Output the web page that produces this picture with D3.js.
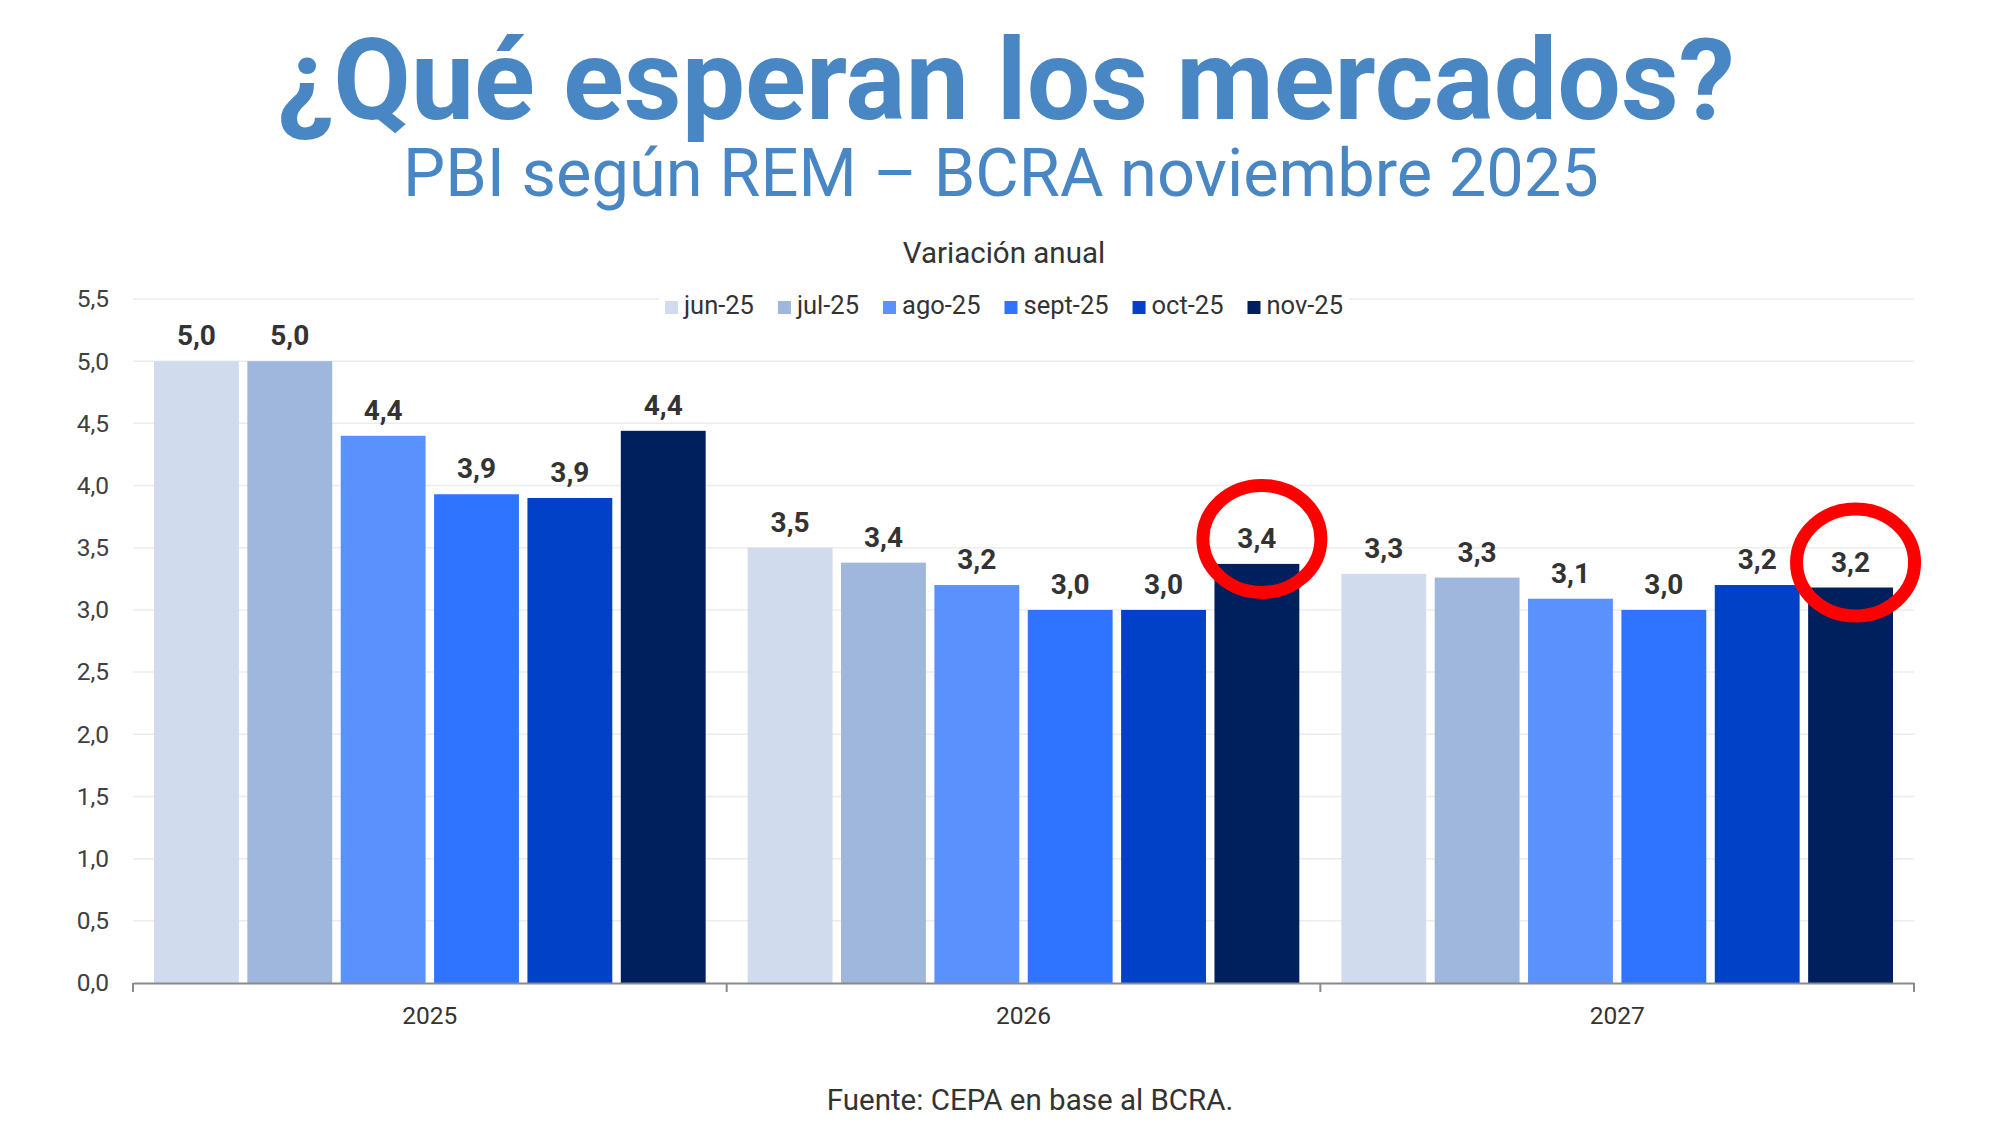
<!DOCTYPE html>
<html>
<head>
<meta charset="utf-8">
<script src="https://cdn.jsdelivr.net/npm/d3@7/dist/d3.min.js"></script>
<style>
  html, body { margin: 0; padding: 0; background: #ffffff; }
  svg { display: block; font-family: Roboto, "Noto Sans", sans-serif; }
</style>
</head>
<body>
<svg id="chart" width="2000" height="1125"></svg>
<script>
// ---------- DATA ----------
const categories = ["2025", "2026", "2027"];
const seriesNames = ["jun-25", "jul-25", "ago-25", "sept-25", "oct-25", "nov-25"];
const jun25  = [5.00, 3.50, 3.29];
const jul25  = [5.00, 3.38, 3.26];
const ago25  = [4.40, 3.20, 3.09];
const sept25 = [3.93, 3.00, 3.00];
const oct25  = [3.90, 3.00, 3.20];
const nov25  = [4.44, 3.37, 3.18];
const yTicks = [0, 0.5, 1, 1.5, 2, 2.5, 3, 3.5, 4, 4.5, 5, 5.5];
const highlights = [
  { category: "2026", series: "nov-25" },
  { category: "2027", series: "nov-25" }
];
const titleText = "¿Qué esperan los mercados?";
const subtitleText = "PBI según REM – BCRA noviembre 2025";
const chartTitleText = "Variación anual";
const sourceText = "Fuente: CEPA en base al BCRA.";

// ---------- STYLE ----------
const seriesColors = ["#d0dcee", "#9fb7dc", "#5b91fd", "#2f74fe", "#0041c8", "#001f5d"];
const titleColor = "#4886c4";
const textColor = "#333333";

const seriesValues = [jun25, jul25, ago25, sept25, oct25, nov25];
const table = categories.map((c, i) => ({
  category: c,
  values: seriesNames.map((s, j) => ({ series: s, value: seriesValues[j][i], category: c }))
}));

const svg = d3.select("#chart");
const margin = { left: 133, right: 2000 - 1914, top: 299, bottom: 1125 - 983 };
const plotW = 2000 - margin.left - margin.right;
const plotH = 1125 - margin.top - margin.bottom;

const x0 = d3.scaleBand().domain(categories).range([0, plotW]).padding(0);
const x1 = d3.scaleBand().domain(seriesNames).range([0, x0.bandwidth()])
  .paddingInner(0.091).paddingOuter(0.225);
const y = d3.scaleLinear().domain([0, 5.5]).range([plotH, 0]);
const color = d3.scaleOrdinal().domain(seriesNames).range(seriesColors);
const fmt = v => d3.format(".1f")(v).replace(".", ",");

// ---------- TITLES ----------
function fitText(sel, targetWidth) {
  const fs = parseFloat(sel.attr("font-size"));
  const len = sel.node().getComputedTextLength();
  sel.attr("font-size", fs * targetWidth / len);
}
const title = svg.append("text")
  .attr("x", 1006).attr("y", 119).attr("text-anchor", "middle")
  .attr("font-size", 101).attr("font-weight", 700).attr("fill", titleColor)
  .text(titleText);
fitText(title, 1458);

const subtitle = svg.append("text")
  .attr("x", 1001).attr("y", 196).attr("text-anchor", "middle")
  .attr("font-size", 67).attr("font-weight", 400).attr("fill", titleColor)
  .text(subtitleText);
fitText(subtitle, 1196);

svg.append("text")
  .attr("x", 1004).attr("y", 263).attr("text-anchor", "middle")
  .attr("font-size", 29.5).attr("fill", textColor)
  .text(chartTitleText);

// ---------- PLOT ----------
const g = svg.append("g").attr("transform", `translate(${margin.left},${margin.top})`);

// gridlines
g.append("g").selectAll("line").data(yTicks.filter(t => t > 0)).join("line")
  .attr("x1", 0).attr("x2", plotW)
  .attr("y1", d => y(d)).attr("y2", d => y(d))
  .attr("stroke", "#ececec").attr("stroke-width", 1.5);

// y axis labels
const yAxis = d3.axisLeft(y).tickValues(yTicks).tickFormat(fmt).tickSize(0).tickPadding(24);
const yg = g.append("g").call(yAxis);
yg.select(".domain").remove();
yg.selectAll("text").attr("font-size", 24.5).attr("fill", "#404040")
  .attr("font-family", "Roboto, sans-serif");

// bars
const groups = g.append("g").selectAll("g").data(table).join("g")
  .attr("transform", d => `translate(${x0(d.category)},0)`);
groups.selectAll("rect").data(d => d.values).join("rect")
  .attr("x", d => x1(d.series))
  .attr("y", d => y(d.value))
  .attr("width", x1.bandwidth())
  .attr("height", d => y(0) - y(d.value))
  .attr("fill", d => color(d.series));

// value labels
groups.selectAll("text.val").data(d => d.values).join("text")
  .attr("class", "val")
  .attr("x", d => x1(d.series) + x1.bandwidth() / 2)
  .attr("y", d => y(d.value) - 16)
  .attr("text-anchor", "middle")
  .attr("font-size", 28).attr("font-weight", 700).attr("fill", textColor)
  .text(d => fmt(d.value));

// x axis
const xAxis = d3.axisBottom(x0).tickSize(0).tickPadding(24);
const xg = g.append("g").attr("transform", `translate(0,${plotH})`).call(xAxis);
xg.select(".domain").attr("stroke", "#8a8a8a").attr("stroke-width", 2);
xg.selectAll("text").attr("font-size", 24.5).attr("fill", textColor)
  .attr("font-family", "Roboto, sans-serif");
const boundaries = categories.map(c => x0(c)).concat([plotW]);
xg.append("g").selectAll("line").data(boundaries).join("line")
  .attr("x1", d => d).attr("x2", d => d).attr("y1", 0).attr("y2", 9)
  .attr("stroke", "#8a8a8a").attr("stroke-width", 2);

// highlight circles
g.append("g").selectAll("ellipse").data(highlights).join("ellipse")
  .attr("cx", d => x0(d.category) + x1(d.series) + x1.bandwidth() / 2 + 5)
  .attr("cy", d => {
    const v = table.find(t => t.category === d.category).values.find(s => s.series === d.series).value;
    return y(v) - 25;
  })
  .attr("rx", 59).attr("ry", 53.5)
  .attr("fill", "none").attr("stroke", "#ff0000").attr("stroke-width", 13);

// ---------- LEGEND ----------
const legend = svg.append("g");
const legendItems = legend.selectAll("g").data(seriesNames).join("g");
legendItems.append("rect")
  .attr("width", 13).attr("height", 13).attr("y", -13)
  .attr("fill", d => color(d));
legendItems.append("text")
  .attr("x", 19).attr("y", 0)
  .attr("font-size", 25.5).attr("fill", textColor)
  .text(d => d);
let cursor = 0;
legendItems.each(function () {
  const w = 19 + d3.select(this).select("text").node().getComputedTextLength();
  d3.select(this).attr("transform", `translate(${cursor},0)`);
  cursor += w + 24;
});
const legendWidth = cursor - 24;
const lx = 1004 - legendWidth / 2;
legend.insert("rect", ":first-child")
  .attr("x", -6).attr("y", -20).attr("width", legendWidth + 12).attr("height", 27)
  .attr("fill", "#ffffff");
legend.attr("transform", `translate(${lx},314)`);

// ---------- SOURCE ----------
svg.append("text")
  .attr("x", 1030).attr("y", 1110).attr("text-anchor", "middle")
  .attr("font-size", 29.5).attr("fill", textColor)
  .text(sourceText);
</script>
</body>
</html>
